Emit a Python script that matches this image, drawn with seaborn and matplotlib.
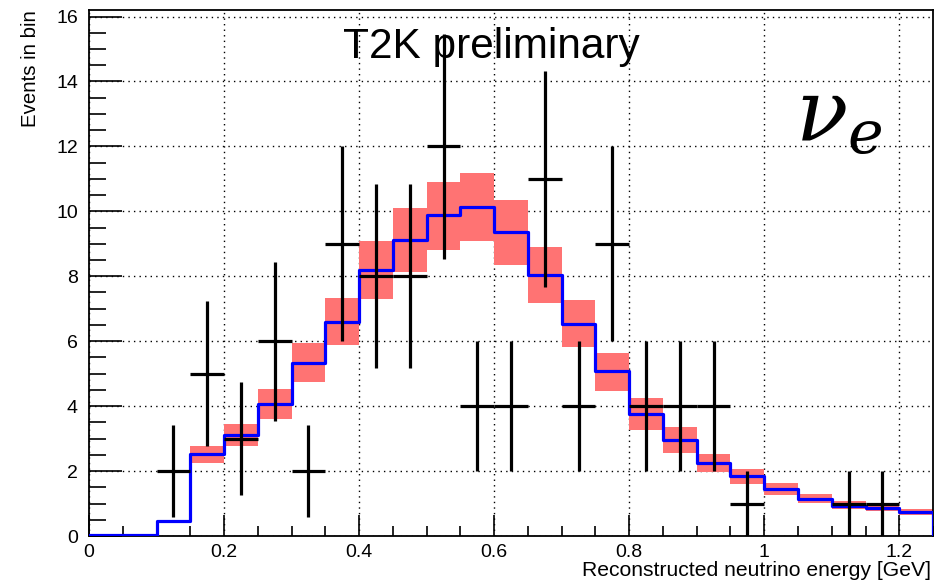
import numpy as np
import pandas as pd
import matplotlib
matplotlib.use("Agg")
import matplotlib.pyplot as plt
import seaborn as sns
from matplotlib.ticker import MultipleLocator

# ---- data ----
bin_edges = [0.0, 0.05, 0.1, 0.15, 0.2, 0.25, 0.3, 0.35, 0.4, 0.45, 0.5, 0.55, 0.6,
             0.65, 0.7, 0.75, 0.8, 0.85, 0.9, 0.95, 1.0, 1.05, 1.1, 1.15, 1.2, 1.25]

# MC prediction (blue step) per bin
mc_pred = [0.03, 0.03, 0.46, 2.53, 3.10, 4.06, 5.34, 6.60, 8.20, 9.13, 9.88, 10.13,
           9.36, 8.04, 6.54, 5.07, 3.77, 2.95, 2.25, 1.85, 1.45, 1.14, 0.93, 0.85, 0.74]
# systematic band (red) low / high edges per bin
band_lo = [0.0, 0.0, 0.42, 2.26, 2.78, 3.60, 4.75, 5.89, 7.29, 8.13, 8.80, 9.08,
           8.34, 7.17, 5.82, 4.47, 3.26, 2.55, 1.97, 1.60, 1.25, 1.02, 0.83, 0.77, 0.64]
band_hi = [0.06, 0.06, 0.50, 2.77, 3.45, 4.52, 5.95, 7.32, 9.09, 10.09, 10.91, 11.19,
           10.34, 8.89, 7.26, 5.64, 4.24, 3.35, 2.52, 2.05, 1.63, 1.29, 1.08, 0.97, 0.83]

# observed events per bin
data_counts = [0, 0, 2, 5, 3, 6, 2, 9, 8, 8, 12, 4, 4, 11, 4, 9, 4, 4, 4, 1, 0, 0, 1, 1, 0]

edges = np.array(bin_edges)
centers = 0.5 * (edges[:-1] + edges[1:])
widths = np.diff(edges)
mc = np.array(mc_pred)
lo = np.array(band_lo)
hi = np.array(band_hi)
obs = np.array(data_counts, dtype=float)
df = pd.DataFrame({"energy": centers, "mc": mc})

sns.set_theme(style="white")
plt.rcParams['font.family'] = ['Liberation Sans', 'DejaVu Sans']
plt.rcParams['mathtext.fontset'] = 'dejavuserif'
plt.rcParams['text.color'] = 'black'
plt.rcParams['axes.labelcolor'] = 'black'
plt.rcParams['xtick.color'] = 'black'
plt.rcParams['ytick.color'] = 'black'

fig = plt.figure(figsize=(9.35, 5.86), dpi=100)
ax = fig.add_axes([0.0952, 0.0853, 0.9027, 0.8976])

# red error band
ax.bar(edges[:-1], hi - lo, bottom=lo, width=widths, align='edge',
       color='#ff7373', linewidth=0, zorder=2)

# blue MC histogram
sns.histplot(data=df, x="energy", weights="mc", bins=list(bin_edges), element='step',
             fill=False, color='#0000ff', linewidth=2.3, ax=ax, zorder=3)
ax.plot([edges[-1], edges[-1]], [mc[-1], 0], color='#0000ff', linewidth=2.3, zorder=3)

# data points with sqrt(N) errors
m = obs > 0
ax.errorbar(centers[m], obs[m], xerr=widths[m] / 2, yerr=np.sqrt(obs[m]),
            fmt='none', ecolor='black', elinewidth=2.3, capsize=0, zorder=4)

ax.set_xlim(0, 1.25)
ax.set_ylim(0, 16.2)
ax.xaxis.set_minor_locator(MultipleLocator(0.05))
ax.yaxis.set_major_locator(MultipleLocator(2))
ax.yaxis.set_minor_locator(MultipleLocator(0.5))
ax.set_xticks(np.arange(0, 1.21, 0.2))
ax.set_xticklabels(['0', '0.2', '0.4', '0.6', '0.8', '1', '1.2'])
ax.grid(True, which='major', color='black', linestyle=(0, (1, 3)), linewidth=1.0, zorder=0)
ax.set_axisbelow(True)

ax.tick_params(axis='both', which='both', direction='in', colors='black',
               labelsize=14, top=False, right=False, left=True, bottom=True)
ax.tick_params(axis='y', which='major', length=24, width=1.2, pad=8)
ax.tick_params(axis='y', which='minor', length=12, width=1.2)
ax.tick_params(axis='x', which='major', length=15, width=1.2, pad=6)
ax.tick_params(axis='x', which='minor', length=7, width=1.2)
for s in ax.spines.values():
    s.set_color('black')
    s.set_linewidth(1.3)
ax.set_xlabel('')
ax.set_ylabel('')

fig.text(30 / 935, 1 - 10 / 586, 'Events in bin', rotation=90, ha='center', va='top', fontsize=14.7)
fig.text(931 / 935, 1 - 570 / 586, 'Reconstructed neutrino energy [GeV]', ha='right',
         va='center', fontsize=15.2)

ax.text((343 - 89) / 844, 1 - (58 - 10) / 526, 'T2K preliminary',
        transform=ax.transAxes, ha='left', va='baseline', fontsize=30.5, zorder=5)
ax.text((795 - 89) / 844, 1 - (140 - 10) / 526, r'$\nu_e$', transform=ax.transAxes,
        ha='left', va='baseline', fontsize=62, zorder=5)

fig.savefig('out.png', dpi=100)
